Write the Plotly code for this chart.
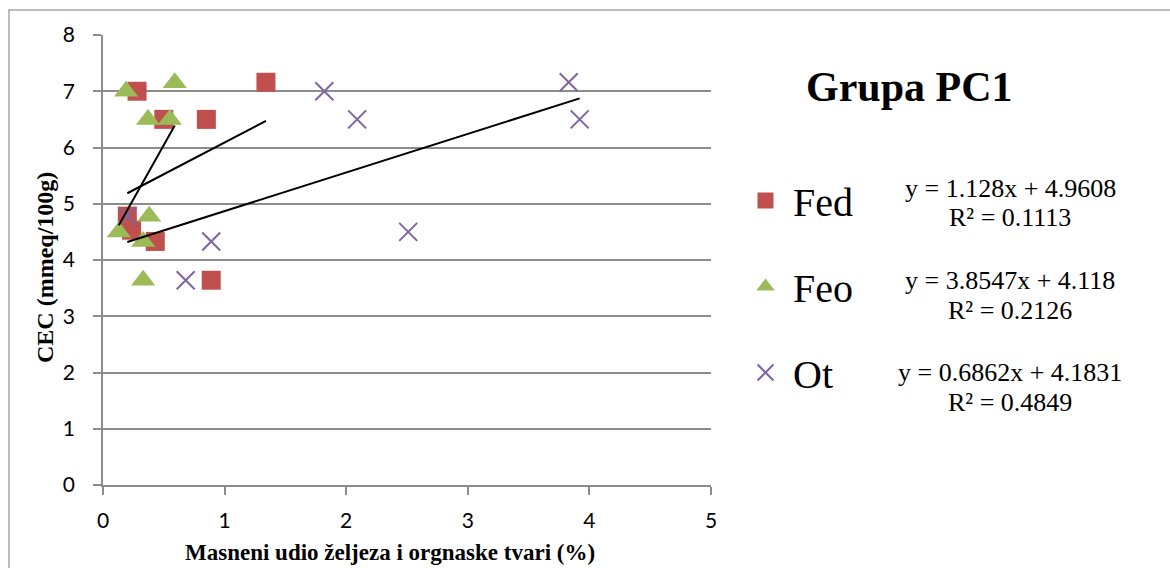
import plotly.graph_objects as go

# ---- data ----
fed_x = [0.28, 1.34, 0.50, 0.85, 0.20, 0.235, 0.43, 0.89]
fed_y = [7.00, 7.16, 6.50, 6.50, 4.78, 4.53, 4.33, 3.64]
feo_x = [0.19, 0.59, 0.37, 0.55, 0.38, 0.13, 0.33, 0.33]
feo_y = [7.00, 7.15, 6.50, 6.50, 4.78, 4.50, 4.33, 3.64]
ot_x = [0.20, 0.89, 0.68, 1.82, 2.09, 2.51, 3.83, 3.92]
ot_y = [4.78, 4.33, 3.64, 7.00, 6.50, 4.50, 7.16, 6.50]

series_names = ["Fed", "Feo", "Ot"]
slopes = [1.128, 3.8547, 0.6862]
intercepts = [4.9608, 4.118, 4.1831]
r2_values = ["0.1113", "0.2126", "0.4849"]
eq_texts = ["y = 1.128x + 4.9608", "y = 3.8547x + 4.118", "y = 0.6862x + 4.1831"]

x_ticks = [0, 1, 2, 3, 4, 5]
y_ticks = [0, 1, 2, 3, 4, 5, 6, 7, 8]

title_text = "Grupa PC1"
x_title = "Masneni udio željeza i orgnaske tvari (%)"
y_title = "CEC (mmeq/100g)"

# ---- layout geometry (pixels) ----
W, H = 1170, 568
L, R, T, B = 103, 711, 35, 485
pw, ph = R - L, B - T


def px(xp):
    return (xp - L) / pw


def py(yp):
    return (B - yp) / ph


serif = "Liberation Serif, Times New Roman, serif"
sans = "Lato, Carlito, Calibri, sans-serif"

fig = go.Figure()

fig.add_trace(go.Scatter(
    x=fed_x, y=fed_y, mode="markers", name=series_names[0], legendgroup="a",
    marker=dict(symbol="square", size=19, color="#C0504D"),
))
fig.add_trace(go.Scatter(
    x=feo_x, y=feo_y, mode="markers", name=series_names[1], legendgroup="b",
    marker=dict(symbol="triangle-up", size=21, color="#9BBB59"),
))
fig.add_trace(go.Scatter(
    x=ot_x, y=ot_y, mode="markers", name=series_names[2], legendgroup="c",
    marker=dict(symbol="x-thin", size=18, color="#8064A2",
                line=dict(color="#8064A2", width=2)),
))

# trend lines from the displayed equations over each series' x-range
for xs, m, c in zip([fed_x, feo_x, ot_x], slopes, intercepts):
    x0, x1 = min(xs), max(xs)
    fig.add_trace(go.Scatter(
        x=[x0, x1], y=[m * x0 + c, m * x1 + c], mode="lines",
        line=dict(color="black", width=2), showlegend=False, hoverinfo="skip",
    ))

annotations = []
annotations.append(dict(
    x=px(909), y=py(87), xref="paper", yref="paper", text=f"<b>{title_text}</b>",
    showarrow=False, font=dict(family=serif, size=42, color="black"),
    xanchor="center", yanchor="middle"))
annotations.append(dict(
    x=px(390), y=py(552), xref="paper", yref="paper", text=f"<b>{x_title}</b>",
    showarrow=False, font=dict(family=serif, size=23, color="black"),
    xanchor="center", yanchor="middle"))
annotations.append(dict(
    x=px(45), y=py(268), xref="paper", yref="paper", text=f"<b>{y_title}</b>",
    showarrow=False, textangle=-90, font=dict(family=serif, size=24, color="black"),
    xanchor="center", yanchor="middle"))
eq_y = [188, 280, 372]
for yc, eq, r2 in zip(eq_y, eq_texts, r2_values):
    annotations.append(dict(
        x=px(1010), y=py(yc), xref="paper", yref="paper", text=eq,
        showarrow=False, font=dict(family=serif, size=26, color="black"),
        xanchor="center", yanchor="middle"))
    annotations.append(dict(
        x=px(1010), y=py(yc + 30), xref="paper", yref="paper", text=f"R² = {r2}",
        showarrow=False, font=dict(family=serif, size=26, color="black"),
        xanchor="center", yanchor="middle"))

fig.update_layout(
    width=W, height=H,
    margin=dict(l=L, r=W - R, t=T, b=H - B, pad=0),
    paper_bgcolor="white", plot_bgcolor="white",
    showlegend=True,
    legend=dict(
        x=px(738), y=py(168), xref="paper", yref="paper",
        xanchor="left", yanchor="top",
        font=dict(family=serif, size=40, color="black"),
        tracegroupgap=31, itemsizing="trace", itemwidth=45,
        bgcolor="rgba(0,0,0,0)", borderwidth=0,
    ),
    annotations=annotations,
    shapes=[dict(type="rect", xref="paper", yref="paper",
                 x0=px(9), x1=px(1200), y0=py(600), y1=py(10),
                 line=dict(color="#A6A6A6", width=1.5), layer="below")],
    xaxis=dict(
        range=[0, 5], tickvals=x_ticks, showgrid=False, zeroline=False,
        showline=True, linecolor="#8C8C8C", linewidth=1.5,
        ticks="outside", ticklen=8, tickcolor="#8C8C8C", tickwidth=1.5,
        tickfont=dict(family=sans, size=21, color="black"),
        ticklabelstandoff=8,
    ),
    yaxis=dict(
        range=[0, 8], tickvals=y_ticks, showgrid=True, gridcolor="#8C8C8C",
        gridwidth=1.5, zeroline=False,
        showline=True, linecolor="#8C8C8C", linewidth=1.5,
        ticks="outside", ticklen=8, tickcolor="#8C8C8C", tickwidth=1.5,
        tickfont=dict(family=sans, size=21, color="black"),
        ticklabelstandoff=14,
    ),
)

fig.write_html("out.html", config={"displayModeBar": False},
               post_script="document.body.style.margin='0';")
